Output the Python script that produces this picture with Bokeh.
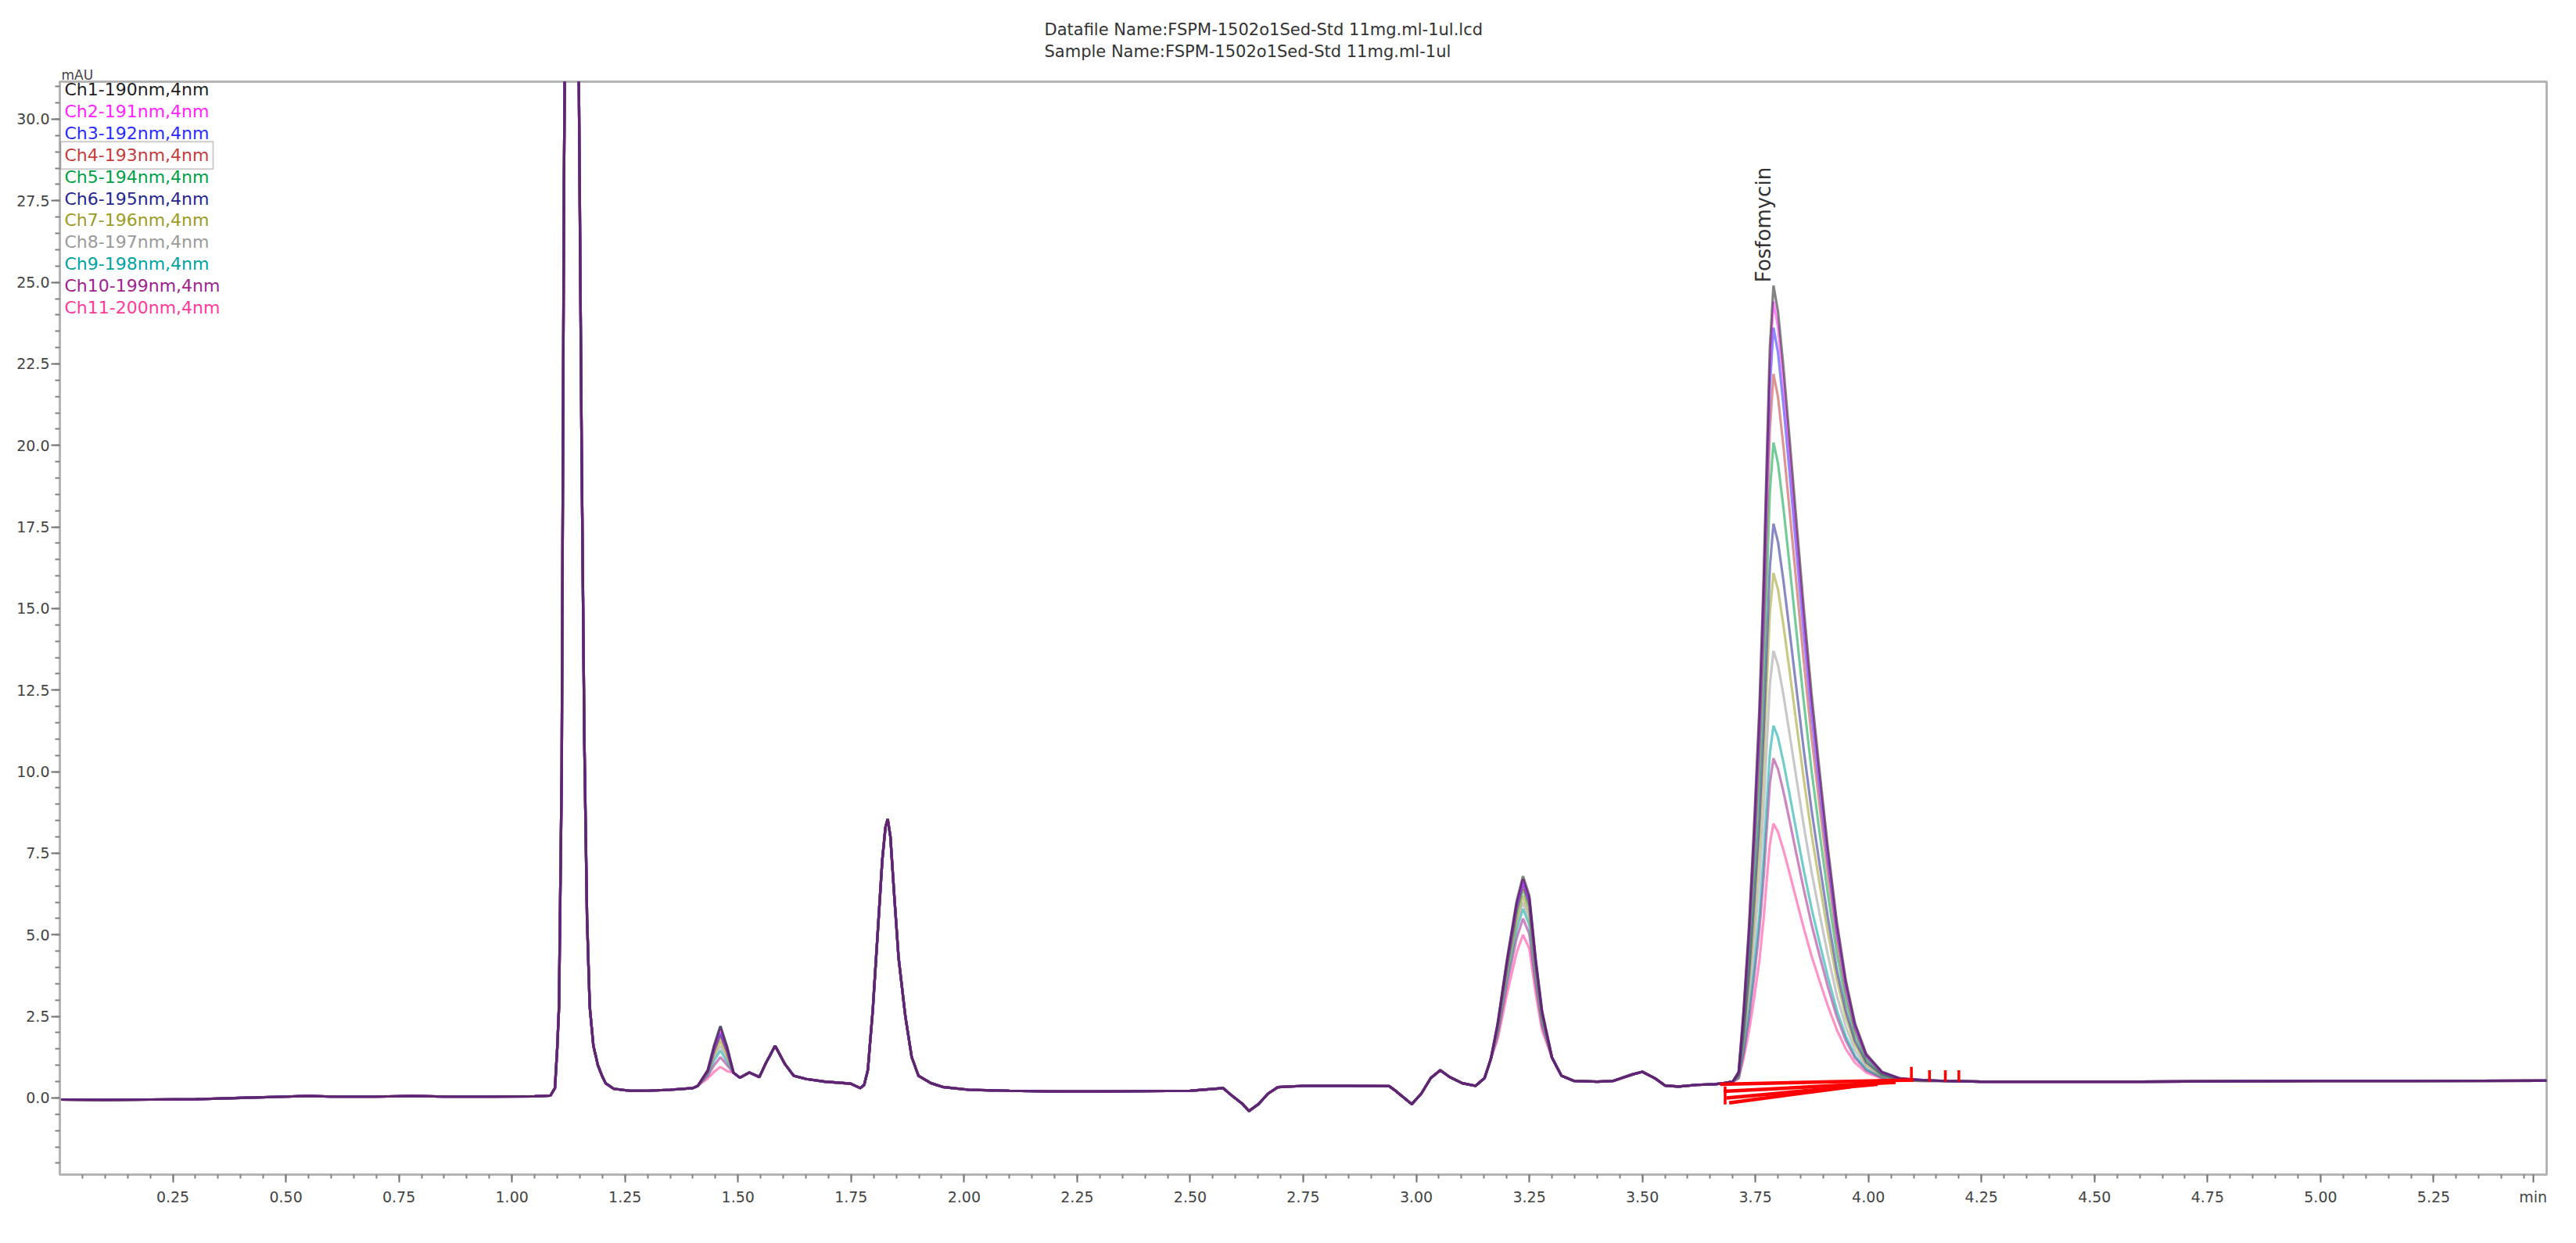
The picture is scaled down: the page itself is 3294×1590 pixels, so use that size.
from math import pi
from bokeh.plotting import figure
from bokeh.models import Range1d, Label, BoxAnnotation, FixedTicker, Title
from bokeh.embed import file_html
from bokeh.resources import INLINE

# ---------------- data ----------------
title_lines = ["Datafile Name:FSPM-1502o1Sed-Std 11mg.ml-1ul.lcd",
               "Sample Name:FSPM-1502o1Sed-Std 11mg.ml-1ul"]
y_unit_label = "mAU"
x_unit_label = "min"

channel_names = ["Ch1-190nm,4nm", "Ch2-191nm,4nm", "Ch3-192nm,4nm", "Ch4-193nm,4nm",
                 "Ch5-194nm,4nm", "Ch6-195nm,4nm", "Ch7-196nm,4nm", "Ch8-197nm,4nm",
                 "Ch9-198nm,4nm", "Ch10-199nm,4nm", "Ch11-200nm,4nm"]
channel_colors = ["#1e1e1e", "#ff22ff", "#2a2aff", "#c43c3c", "#00a046", "#26268f",
                  "#9c9c22", "#9a9a9a", "#00a2a2", "#a0228f", "#ff3a9a"]

# parts of the trace shared by all channels (time in min, absorbance in mAU)
trace_a_t = [0.00, 0.10, 0.20, 0.30, 0.40, 0.50, 0.55, 0.60, 0.70, 0.78, 0.85, 0.95, 1.05, 1.085,
             1.095, 1.100, 1.104, 1.110, 1.115, 1.120, 1.127, 1.134, 1.141, 1.148, 1.154, 1.160,
             1.166, 1.172, 1.180, 1.190, 1.200, 1.207, 1.225, 1.26, 1.30, 1.35, 1.40, 1.411]
trace_a_y = [-0.05, -0.06, -0.05, -0.04, 0.0, 0.04, 0.06, 0.04, 0.04, 0.06, 0.04, 0.04, 0.05, 0.07,
             0.3, 1.5, 2.8, 10.0, 28.0, 38.0, 45.0, 46.0, 42.0, 31.0, 20.0, 11.0,
             5.5, 2.8, 1.6, 1.0, 0.65, 0.45, 0.28, 0.22, 0.22, 0.25, 0.3, 0.37]
trace_b_t = [1.490, 1.504, 1.525, 1.547, 1.561, 1.582, 1.603, 1.623, 1.651, 1.692, 1.749, 1.770,
             1.779, 1.787, 1.798, 1.809, 1.819, 1.826, 1.831, 1.837, 1.845, 1.855, 1.870, 1.884,
             1.899, 1.927, 1.955, 2.01, 2.10, 2.20, 2.30, 2.40, 2.50, 2.573,
             2.594, 2.616, 2.630, 2.651, 2.672, 2.694, 2.75, 2.85, 2.94, 2.955, 2.976, 2.99,
             3.011, 3.032, 3.053, 3.074, 3.102, 3.131, 3.151, 3.165]
trace_b_y = [0.77, 0.62, 0.78, 0.64, 1.05, 1.6, 1.05, 0.68, 0.58, 0.5, 0.44, 0.3,
             0.4, 0.85, 2.7, 5.1, 7.3, 8.3, 8.55, 8.0, 6.3, 4.3, 2.5, 1.25,
             0.68, 0.45, 0.33, 0.25, 0.22, 0.2, 0.2, 0.21, 0.22, 0.3,
             0.05, -0.19, -0.4, -0.19, 0.13, 0.33, 0.37, 0.37, 0.36, 0.21, -0.03, -0.19,
             0.13, 0.61, 0.85, 0.64, 0.45, 0.37, 0.61, 1.2]
trace_c_t = [3.300, 3.321, 3.349, 3.40, 3.435, 3.478, 3.50, 3.528, 3.55, 3.58, 3.62, 3.66]
trace_c_y = [1.24, 0.68, 0.52, 0.5, 0.52, 0.72, 0.8, 0.6, 0.38, 0.35, 0.4, 0.42]
trace_d_t = [4.17, 4.25, 4.40, 4.60, 4.80, 5.00, 5.20, 5.50]
trace_d_y = [0.52, 0.5, 0.5, 0.5, 0.51, 0.52, 0.52, 0.53]

# small peak at 1.46 min, one list per channel
p146_t = [1.433, 1.447, 1.461, 1.476]
p146_by_channel = [
    [0.85, 1.6, 2.2, 1.55], [0.84, 1.55, 2.1, 1.5], [0.82, 1.5, 2.0, 1.45], [0.8, 1.45, 1.9, 1.4],
    [0.8, 1.45, 1.95, 1.42], [0.85, 1.6, 2.2, 1.55], [0.78, 1.35, 1.75, 1.3], [0.75, 1.25, 1.6, 1.2],
    [0.72, 1.15, 1.45, 1.1], [0.68, 1.0, 1.25, 1.0], [0.6, 0.8, 0.95, 0.82]]

# peak at 3.24 min, one list per channel
p324_t = [3.180, 3.201, 3.222, 3.236, 3.250, 3.264, 3.278]
p324_by_channel = [
    [2.29, 4.28, 6.04, 6.8, 6.2, 4.28, 2.68], [2.26, 4.22, 5.95, 6.7, 6.11, 4.22, 2.65],
    [2.24, 4.16, 5.87, 6.6, 6.02, 4.16, 2.61], [2.21, 4.1, 5.78, 6.5, 5.93, 4.1, 2.58],
    [2.18, 4.04, 5.69, 6.4, 5.84, 4.04, 2.54], [2.26, 4.22, 5.95, 6.7, 6.11, 4.22, 2.65],
    [2.13, 3.92, 5.51, 6.2, 5.66, 3.92, 2.48], [2.07, 3.81, 5.34, 6.0, 5.48, 3.81, 2.41],
    [2.02, 3.69, 5.16, 5.8, 5.3, 3.69, 2.35], [1.94, 3.51, 4.9, 5.5, 5.02, 3.51, 2.24],
    [1.8, 3.21, 4.46, 5.0, 4.58, 3.21, 2.08]]

# main peak (3.68 - 4.12 min), one list per channel
peak_t = [3.68, 3.70, 3.713, 3.724, 3.736, 3.747, 3.759, 3.768, 3.775, 3.782, 3.790, 3.800, 3.812,
          3.825, 3.840, 3.857, 3.874, 3.892, 3.910, 3.930, 3.950, 3.970, 3.995, 4.03, 4.07, 4.12]
peak_ch1 = [0.45, 0.5, 0.8, 2.7, 5.3, 8.3, 12.0, 15.8, 19.5, 23.0, 24.9, 24.1, 22.4, 20.3, 17.8, 15.0, 12.4, 10.0, 7.7, 5.4, 3.6, 2.3, 1.35, 0.8, 0.6, 0.55]
peak_ch2 = [0.45, 0.5, 0.79, 2.66, 5.2, 8.14, 11.77, 15.49, 19.12, 22.55, 24.41, 23.63, 21.96, 19.9, 17.45, 14.71, 12.16, 9.81, 7.56, 5.3, 3.54, 2.26, 1.33, 0.79, 0.6, 0.55]
peak_ch3 = [0.45, 0.5, 0.78, 2.58, 5.05, 7.89, 11.39, 14.99, 18.49, 21.81, 23.61, 22.85, 21.24, 19.25, 16.88, 14.23, 11.77, 9.5, 7.32, 5.14, 3.44, 2.2, 1.3, 0.78, 0.59, 0.55]
peak_ch4 = [0.45, 0.5, 0.77, 2.46, 4.77, 7.43, 10.72, 14.1, 17.39, 20.5, 22.19, 21.48, 19.97, 18.1, 15.88, 13.39, 11.08, 8.95, 6.9, 4.86, 3.26, 2.1, 1.26, 0.77, 0.59, 0.54]
peak_ch5 = [0.45, 0.5, 0.74, 2.27, 4.35, 6.76, 9.73, 12.79, 15.76, 18.57, 20.09, 19.45, 18.09, 16.4, 14.39, 12.14, 10.06, 8.13, 6.28, 4.43, 2.99, 1.95, 1.18, 0.74, 0.58, 0.54]
peak_ch6 = [0.45, 0.5, 0.71, 2.04, 3.86, 5.97, 8.56, 11.23, 13.82, 16.27, 17.6, 17.04, 15.85, 14.38, 12.63, 10.66, 8.84, 7.16, 5.55, 3.93, 2.67, 1.76, 1.1, 0.71, 0.57, 0.54]
peak_ch7 = [0.45, 0.5, 0.69, 1.91, 3.57, 5.48, 7.85, 10.28, 12.64, 14.88, 16.09, 15.58, 14.49, 13.15, 11.55, 9.77, 8.1, 6.57, 5.1, 3.63, 2.48, 1.65, 1.04, 0.69, 0.56, 0.53]
peak_ch8 = [0.45, 0.5, 0.66, 1.69, 3.1, 4.72, 6.72, 8.78, 10.78, 12.67, 13.7, 13.27, 12.35, 11.21, 9.86, 8.34, 6.94, 5.64, 4.4, 3.15, 2.18, 1.47, 0.96, 0.66, 0.55, 0.53]
peak_ch9 = [0.45, 0.5, 0.63, 1.48, 2.65, 3.99, 5.64, 7.34, 8.99, 10.56, 11.41, 11.05, 10.29, 9.35, 8.23, 6.98, 5.82, 4.75, 3.72, 2.69, 1.89, 1.3, 0.88, 0.63, 0.54, 0.52]
peak_ch10 = [0.45, 0.5, 0.62, 1.39, 2.45, 3.67, 5.17, 6.71, 8.21, 9.64, 10.41, 10.08, 9.39, 8.54, 7.52, 6.39, 5.33, 4.36, 3.42, 2.49, 1.76, 1.23, 0.85, 0.62, 0.54, 0.52]
peak_ch11 = [0.45, 0.5, 0.6, 1.21, 2.06, 3.03, 4.23, 5.46, 6.66, 7.79, 8.41, 8.15, 7.6, 6.92, 6.11, 5.2, 4.36, 3.58, 2.83, 2.09, 1.5, 1.08, 0.78, 0.6, 0.53, 0.52]
peak_by_channel = [peak_ch1, peak_ch2, peak_ch3, peak_ch4, peak_ch5, peak_ch6,
                   peak_ch7, peak_ch8, peak_ch9, peak_ch10, peak_ch11]

# integration baselines and peak-end marks (red)
int_x0 = [3.672, 3.680, 3.686, 3.692]
int_y0 = [0.42, 0.2, 0.0, -0.15]
int_x1 = [4.10, 4.06, 4.02, 3.96]
int_y1 = [0.55, 0.48, 0.42, 0.34]
mark_x = [3.683, 4.095, 4.135, 4.17, 4.20]
mark_y0 = [-0.2, 0.5, 0.5, 0.5, 0.5]
mark_y1 = [0.35, 0.95, 0.85, 0.85, 0.85]

peak_name = "Fosfomycin"
peak_rt = 3.768
peak_label_base = 25.0

x_ticks = [0.25, 0.50, 0.75, 1.00, 1.25, 1.50, 1.75, 2.00, 2.25, 2.50, 2.75, 3.00, 3.25,
           3.50, 3.75, 4.00, 4.25, 4.50, 4.75, 5.00, 5.25, 5.47]
x_tick_labels = ["0.25", "0.50", "0.75", "1.00", "1.25", "1.50", "1.75", "2.00", "2.25", "2.50",
                 "2.75", "3.00", "3.25", "3.50", "3.75", "4.00", "4.25", "4.50", "4.75", "5.00", "5.25",
                 x_unit_label]
y_ticks = [0.0, 2.5, 5.0, 7.5, 10.0, 12.5, 15.0, 17.5, 20.0, 22.5, 25.0, 27.5, 30.0]
y_tick_labels = ["0.0", "2.5", "5.0", "7.5", "10.0", "12.5", "15.0", "17.5", "20.0", "22.5",
                 "25.0", "27.5", "30.0"]

X_START, X_END = 0.0, 5.5
Y_START, Y_END = -2.35, 31.15

# ---------------- figure ----------------
FW, FH = 3180, 1398
FONT = "DejaVu Sans"
p = figure(frame_width=FW, frame_height=FH,
           x_range=Range1d(X_START, X_END), y_range=Range1d(Y_START, Y_END),
           output_backend="svg", toolbar_location=None,
           min_border_left=76, min_border_right=22, min_border_top=104, min_border_bottom=72)
p.grid.visible = False
p.outline_line_color = "#b4b4b4"
p.outline_line_width = 3
p.background_fill_color = "white"
p.border_fill_color = "white"

dx = (X_END - X_START) / FW
dy = (Y_END - Y_START) / FH

for ax in (p.xaxis[0], p.yaxis[0]):
    ax.axis_line_color = "#b4b4b4"
    ax.axis_line_width = 3
    ax.major_tick_line_color = "#707070"
    ax.major_tick_line_width = 2
    ax.minor_tick_line_color = "#808080"
    ax.minor_tick_line_width = 2
    ax.major_tick_in = 0
    ax.minor_tick_in = 0
    ax.major_label_text_font = FONT
    ax.major_label_text_font_size = "19px"
    ax.major_label_text_color = "#444444"

p.xaxis.ticker = FixedTicker(ticks=x_ticks, minor_ticks=[round(i * 0.05, 2) for i in range(1, 110)])
p.xaxis.major_label_overrides = dict(zip(x_ticks, x_tick_labels))
p.xaxis.major_tick_out = 10
p.xaxis.minor_tick_out = 5
p.xaxis.major_label_standoff = 7

p.yaxis.ticker = FixedTicker(ticks=y_ticks, minor_ticks=[round(i * 0.5, 1) for i in range(-4, 63)])
p.yaxis.major_label_overrides = dict(zip(y_ticks, y_tick_labels))
p.yaxis.major_tick_out = 11
p.yaxis.minor_tick_out = 6
p.yaxis.major_label_standoff = 2

# traces (channel 11 first, channel 1 last)
for i in reversed(range(len(channel_names))):
    t = trace_a_t + p146_t + trace_b_t + p324_t + trace_c_t + peak_t + trace_d_t
    y = (trace_a_y + p146_by_channel[i] + trace_b_y + p324_by_channel[i] + trace_c_y
         + peak_by_channel[i] + trace_d_y)
    p.line(t, y, line_color=channel_colors[i], line_width=3.2, line_alpha=0.55)

# integration baselines
p.segment(int_x0, int_y0, int_x1, int_y1, line_color="#ff0000", line_width=4.5)
p.segment(mark_x, mark_y0, mark_x, mark_y1, line_color="#ff0000", line_width=3.5)

# peak label
p.add_layout(Label(x=peak_rt, y=peak_label_base, text=peak_name, angle=pi / 2,
                   text_align="left", text_baseline="middle", text_font=FONT,
                   text_font_size="26px", text_color="#333333"))

# legend (coloured channel names, top-left)
for i, (name, col) in enumerate(zip(channel_names, channel_colors)):
    p.add_layout(Label(x=X_START, y=Y_END, x_offset=6, y_offset=-(10 + i * 27.9),
                       text=name, text_color=col, text_font=FONT, text_font_size="22px",
                       text_baseline="middle", text_align="left"))
sel = 3
p.add_layout(BoxAnnotation(left=X_START + 1 * dx, right=X_START + 196 * dx,
                           top=Y_END - (10 + sel * 27.9 - 17) * dy,
                           bottom=Y_END - (10 + sel * 27.9 + 18) * dy,
                           fill_alpha=0, line_color="#555555", line_width=2))

# texts above the frame
p.add_layout(Title(text=y_unit_label, align="left", offset=2, standoff=-3,
                   text_font=FONT, text_font_size="17px", text_font_style="normal",
                   text_color="#444444"), "above")
p.add_layout(Title(text="\n".join(title_lines), align="left", offset=1259, standoff=14,
                   text_font=FONT, text_font_size="21px", text_font_style="normal",
                   text_line_height=1.2, text_color="#333333"), "above")

open("out.html", "w").write(file_html(p, INLINE))
